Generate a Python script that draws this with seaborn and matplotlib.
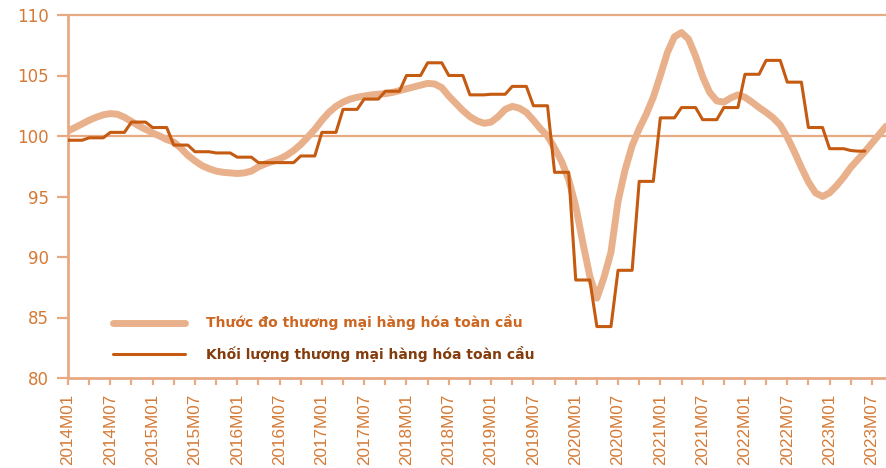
import numpy as np
import pandas as pd
import matplotlib
matplotlib.use("Agg")
import matplotlib.pyplot as plt
import seaborn as sns

# monthly data, 2014M01 onwards
barometer = [100.4, 100.7, 101.0, 101.3, 101.55, 101.75, 101.85, 101.8, 101.55, 101.2,
             100.85, 100.55, 100.25, 100.0, 99.7, 99.5, 99.0, 98.4, 97.95, 97.55,
             97.3, 97.1, 97.0, 96.95, 96.9, 96.95, 97.1, 97.45, 97.7, 97.9,
             98.1, 98.4, 98.8, 99.3, 99.9, 100.55, 101.3, 101.95, 102.45, 102.8,
             103.05, 103.2, 103.3, 103.4, 103.45, 103.5, 103.6, 103.75, 103.9, 104.05,
             104.2, 104.35, 104.3, 104.0, 103.3, 102.7, 102.1, 101.6, 101.25, 101.05,
             101.15, 101.6, 102.2, 102.45, 102.3, 101.95, 101.3, 100.6, 100.0, 99.0,
             97.9, 96.4, 94.2, 91.2, 88.4, 86.6, 88.3, 90.4, 94.6, 97.2,
             99.2, 100.6, 101.8, 103.2, 105.0, 106.9, 108.2, 108.55, 108.0, 106.6,
             104.9, 103.6, 102.9, 102.8, 103.15, 103.4, 103.2, 102.8, 102.35, 101.95,
             101.5, 100.9, 99.9, 98.7, 97.4, 96.2, 95.3, 95.0, 95.3, 95.9,
             96.6, 97.4, 98.05, 98.7, 99.4, 100.1, 100.8]

volume = [99.65, 99.65, 99.65, 99.85, 99.85, 99.85, 100.3, 100.3, 100.3, 101.15,
          101.15, 101.15, 100.7, 100.7, 100.7, 99.25, 99.25, 99.25, 98.7, 98.7,
          98.7, 98.6, 98.6, 98.6, 98.25, 98.25, 98.25, 97.8, 97.8, 97.8,
          97.8, 97.8, 97.8, 98.35, 98.35, 98.35, 100.3, 100.3, 100.3, 102.2,
          102.2, 102.2, 103.05, 103.05, 103.05, 103.7, 103.7, 103.7, 105.0, 105.0,
          105.0, 106.05, 106.05, 106.05, 105.0, 105.0, 105.0, 103.4, 103.4, 103.4,
          103.45, 103.45, 103.45, 104.1, 104.1, 104.1, 102.5, 102.5, 102.5, 97.0,
          97.0, 97.0, 88.1, 88.1, 88.1, 84.25, 84.25, 84.25, 88.9, 88.9,
          88.9, 96.25, 96.25, 96.25, 101.5, 101.5, 101.5, 102.35, 102.35, 102.35,
          101.35, 101.35, 101.35, 102.35, 102.35, 102.35, 105.1, 105.1, 105.1, 106.25,
          106.25, 106.25, 104.45, 104.45, 104.45, 100.7, 100.7, 100.7, 98.95, 98.95,
          98.95, 98.8, 98.75, 98.75]

tick_labels = ["2014M01", "2014M07", "2015M01", "2015M07", "2016M01", "2016M07",
               "2017M01", "2017M07", "2018M01", "2018M07", "2019M01", "2019M07",
               "2020M01", "2020M07", "2021M01", "2021M07", "2022M01", "2022M07",
               "2023M01", "2023M07"]

label_baro = "Thước đo thương mại hàng hóa toàn cầu"
label_vol = "Khối lượng thương mại hàng hóa toàn cầu"

c_light = "#E9B18B"
c_dark = "#C55A11"
c_axis = "#E8AA82"
c_text = "#D47A36"

sns.set_style("white")
plt.rcParams["font.family"] = ["DejaVu Sans"]

df_b = pd.DataFrame({"m": np.arange(len(barometer)), "v": barometer})
df_v = pd.DataFrame({"m": np.arange(len(volume)), "v": volume})

fig = plt.figure(figsize=(8.86, 4.68), dpi=100)
ax = fig.add_axes([68 / 886, 1 - 378 / 468, 1 - 68 / 886, (378 - 15) / 468])

ax.axhline(100, color=c_axis, lw=1.6, zorder=1)
ax.axhline(110, color=c_axis, lw=1.6, zorder=1, clip_on=False)

sns.lineplot(data=df_b, x="m", y="v", ax=ax, color=c_light, lw=5,
             solid_capstyle="round", label=label_baro, zorder=2)
sns.lineplot(data=df_v, x="m", y="v", ax=ax, color=c_dark, lw=2.2,
             label=label_vol, zorder=3)

ax.set_xlim(0, 116)
ax.set_ylim(80, 110)
ax.set_xlabel("")
ax.set_ylabel("")

ax.set_yticks(np.arange(80, 111, 5))
ax.tick_params(axis="y", colors=c_axis, length=8, width=1.6, labelsize=12,
               labelcolor=c_text, pad=6, left=True)
ax.set_xticks(np.arange(0, 6 * len(tick_labels), 6))
ax.set_xticklabels(tick_labels, rotation=90, fontfamily="Liberation Sans",
                   fontsize=12.3, color=c_text)
ax.set_xticks(np.arange(3, 117, 6), minor=True)
ax.tick_params(axis="x", which="both", colors=c_axis, length=5, width=1.6,
               labelcolor=c_text, pad=6, bottom=True)

for side in ["top", "right"]:
    ax.spines[side].set_visible(False)
for side in ["left", "bottom"]:
    ax.spines[side].set_color(c_axis)
    ax.spines[side].set_linewidth(2)

leg = ax.legend(loc="center left", bbox_to_anchor=(45 / 818, 0.11), frameon=False,
                borderpad=0, borderaxespad=0, handlelength=5.2, handletextpad=1.5,
                labelspacing=1.1, prop={"size": 10, "weight": "bold"})
for t, c in zip(leg.get_texts(), ["#CC6620", "#843C0C"]):
    t.set_color(c)

fig.savefig("out.png", dpi=100)
